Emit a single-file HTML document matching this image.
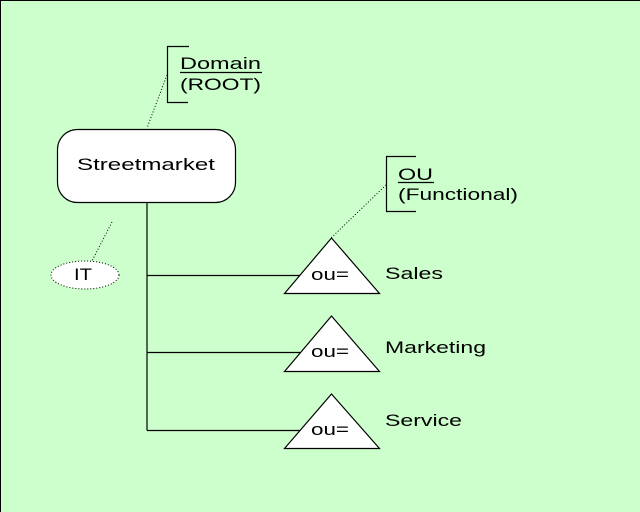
<!DOCTYPE html>
<html><head><meta charset="utf-8"><style>
html,body{margin:0;padding:0;background:#ccffcc;}
svg{display:block;}
text{font-family:"Liberation Sans",Arial,sans-serif;font-size:17px;fill:#000;}
</style></head><body>
<svg width="640" height="512" viewBox="0 0 640 512" xmlns="http://www.w3.org/2000/svg">
<rect x="0" y="0" width="640" height="512" fill="#ccffcc"/>
<line x1="0" y1="0.5" x2="640" y2="0.5" stroke="#000" stroke-width="1"/>
<line x1="0.5" y1="0" x2="0.5" y2="512" stroke="#000" stroke-width="1"/>

<!-- tree lines -->
<g stroke="#000" stroke-width="1.2" fill="none">
<line x1="147" y1="202" x2="147" y2="430.5"/>
<line x1="147" y1="275.5" x2="300" y2="275.5"/>
<line x1="147" y1="352.5" x2="300" y2="352.5"/>
<line x1="147" y1="430.5" x2="300" y2="430.5"/>
</g>

<!-- root box -->
<rect x="57.5" y="129.5" width="178" height="73" rx="20" ry="20" fill="#fff" stroke="#000" stroke-width="1.2"/>
<text x="77" y="170" textLength="138" lengthAdjust="spacingAndGlyphs">Streetmarket</text>

<!-- brackets -->
<g stroke="#000" stroke-width="1.2" fill="none">
<polyline points="189,46.5 167.5,46.5 167.5,102.5 188,102.5"/>
<polyline points="416,156.5 386.5,156.5 386.5,211.5 416,211.5"/>
</g>
<text x="180" y="69" textLength="81" lengthAdjust="spacingAndGlyphs">Domain</text>
<line x1="180" y1="72.5" x2="262" y2="72.5" stroke="#000" stroke-width="1.2"/>
<text x="180" y="90" textLength="81" lengthAdjust="spacingAndGlyphs">(ROOT)</text>

<!-- dotted connectors -->
<g stroke="#000" stroke-width="1" stroke-dasharray="1,2" fill="none">
<line x1="167" y1="75" x2="147" y2="128"/>
<line x1="386" y1="185" x2="331" y2="238"/>
<line x1="112" y1="222" x2="92" y2="261"/>
</g>

<!-- OU bracket text -->
<text x="398" y="180" textLength="35" lengthAdjust="spacingAndGlyphs">OU</text>
<line x1="398" y1="182.5" x2="434" y2="182.5" stroke="#000" stroke-width="1.2"/>
<text x="398" y="200" textLength="120" lengthAdjust="spacingAndGlyphs">(Functional)</text>

<!-- IT ellipse -->
<ellipse cx="85" cy="275" rx="34" ry="14" fill="#fff" stroke="#000" stroke-width="1" stroke-dasharray="1,2"/>
<text x="74" y="280" textLength="18" lengthAdjust="spacingAndGlyphs">IT</text>

<!-- triangles -->
<g fill="#fff" stroke="#000" stroke-width="1.2">
<polygon points="331.5,238 284.5,293.5 379.5,293.5"/>
<polygon points="331.5,316 284.5,371.5 379.5,371.5"/>
<polygon points="331.5,394 284.5,448.5 379.5,448.5"/>
</g>
<text x="311" y="280" textLength="38" lengthAdjust="spacingAndGlyphs">ou=</text>
<text x="311" y="357" textLength="38" lengthAdjust="spacingAndGlyphs">ou=</text>
<text x="311" y="435" textLength="38" lengthAdjust="spacingAndGlyphs">ou=</text>

<text x="385" y="279" textLength="58" lengthAdjust="spacingAndGlyphs">Sales</text>
<text x="385" y="353" textLength="101" lengthAdjust="spacingAndGlyphs">Marketing</text>
<text x="385" y="426" textLength="77" lengthAdjust="spacingAndGlyphs">Service</text>
</svg>
</body></html>
